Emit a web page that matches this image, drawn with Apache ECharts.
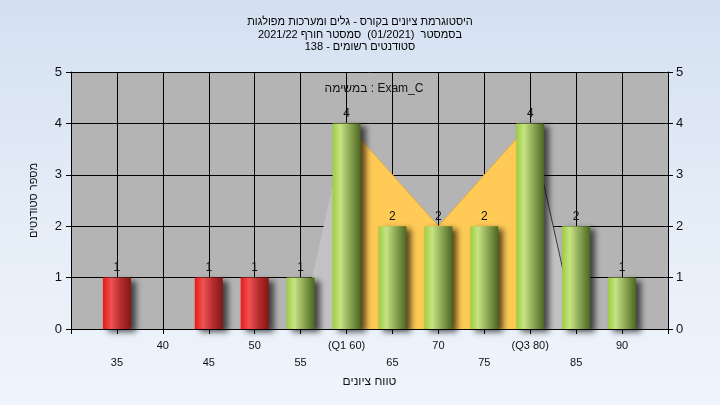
<!DOCTYPE html>
<html>
<head>
<meta charset="utf-8">
<script src="https://cdn.jsdelivr.net/npm/echarts@6/dist/echarts.min.js"></script>
<style>
  html, body { margin: 0; padding: 0; }
  #chart { width: 720px; height: 405px; background: linear-gradient(to bottom, #d4e0f1 0%, #e4ecf7 50%, #eff5fc 100%); }
</style>
</head>
<body>
<div id="chart"></div>
<script>
// ---- data ----
const titleLines = [
  'היסטוגרמת ציונים בקורס - גלים ומערכות מפולגות',
  'בסמסטר  (01/2021)  סמסטר חורף 2021/22',
  'סטודנטים רשומים - 138'
];
const taskLabel = 'במשימה : Exam_C';
const xAxisTitle = 'טווח ציונים';
const yAxisTitle = 'מספר סטודנטים';
const scoreBins = [35, 40, 45, 50, 55, 60, 65, 70, 75, 80, 85, 90];
const studentCounts = [1, 0, 1, 1, 1, 4, 2, 2, 2, 4, 2, 1];
const passMark = 55;
const q1 = 60;
const q3 = 80;
const shapeX = [55, 60, 70, 80, 85];
const shapeY = [0, 4, 2, 4, 0];
const xMin = 30, xMax = 95, xStep = 5;
const yMin = 0, yMax = 5, yStep = 1;

// ---- styles ----
const greenFill = new echarts.graphic.LinearGradient(0, 0, 1, 0, [
  { offset: 0, color: '#9dcd3e' },
  { offset: 0.28, color: '#c6e384' },
  { offset: 0.6, color: '#8faa56' },
  { offset: 1, color: '#4b6621' }
]);
const redFill = new echarts.graphic.LinearGradient(0, 0, 1, 0, [
  { offset: 0, color: '#ea1a1a' },
  { offset: 0.3, color: '#ee5252' },
  { offset: 0.65, color: '#b42c2c' },
  { offset: 1, color: '#841616' }
]);

const barData = [];
scoreBins.forEach((x, i) => {
  const c = studentCounts[i];
  if (c > 0) {
    barData.push({ value: [x, c], itemStyle: { color: x < passMark ? redFill : greenFill } });
  }
});

const pts = shapeX.map((x, i) => [x, shapeY[i]]);
const leftPart = pts.filter(p => p[0] <= q1);
const midPart = pts.filter(p => p[0] >= q1 && p[0] <= q3);
const rightPart = pts.filter(p => p[0] >= q3);

const chart = echarts.init(document.getElementById('chart'), null, { renderer: 'canvas' });
const baseFont = '"Liberation Sans", Arial, "DejaVu Sans", sans-serif';

chart.setOption({
  animation: false,
  textStyle: { fontFamily: baseFont },
  title: [
    {
      text: titleLines.join('\n'),
      left: 'center',
      top: 11,
      textStyle: { fontSize: 11, fontWeight: 'normal', color: '#000', lineHeight: 12.5, fontFamily: baseFont }
    },
    {
      text: taskLabel,
      left: 369,
      top: 78,
      textAlign: 'center',
      textStyle: { fontSize: 12, fontWeight: 'normal', color: '#111', fontFamily: baseFont }
    }
  ],
  grid: {
    left: 71, right: 52, top: 72, bottom: 76,
    show: true, backgroundColor: '#b4b4b4', borderWidth: 0
  },
  xAxis: {
    type: 'value',
    min: xMin, max: xMax, interval: xStep,
    name: xAxisTitle,
    nameLocation: 'middle',
    nameGap: 46,
    nameTextStyle: { fontSize: 12, color: '#111', fontFamily: baseFont },
    axisLine: { show: true, onZero: false, lineStyle: { color: '#000', width: 1 } },
    axisTick: { show: true, length: 5, lineStyle: { color: '#000' } },
    splitLine: { show: true, lineStyle: { color: '#000', width: 1 } },
    axisLabel: {
      margin: 8,
      fontSize: 11,
      color: '#111',
      lineHeight: 17,
      showMinLabel: true, showMaxLabel: true,
      formatter: function (v) {
        if (v === xMin || v === xMax) return '';
        let s = String(v);
        if (v === q1) s = '(Q1 ' + v + ')';
        if (v === q3) s = '(Q3 ' + v + ')';
        return (v % 10 === 0) ? s : '\n' + s;
      }
    }
  },
  yAxis: [
    {
      type: 'value',
      min: yMin, max: yMax, interval: yStep,
      position: 'left',
      name: yAxisTitle,
      nameLocation: 'middle',
      nameGap: 32,
      nameRotate: 90,
      nameTextStyle: { fontSize: 11, color: '#111', fontFamily: baseFont },
      axisLine: { show: true, lineStyle: { color: '#000', width: 1 } },
      axisTick: { show: true, length: 5, lineStyle: { color: '#000' } },
      splitLine: { show: true, lineStyle: { color: '#000', width: 1 } },
      axisLabel: { margin: 9, fontSize: 13, color: '#111' }
    },
    {
      type: 'value',
      min: yMin, max: yMax, interval: yStep,
      position: 'right',
      axisLine: { show: true, lineStyle: { color: '#000', width: 1 } },
      axisTick: { show: true, length: 5, lineStyle: { color: '#000' } },
      splitLine: { show: false },
      axisLabel: { margin: 8, fontSize: 13, color: '#111' }
    }
  ],
  series: [
    {
      type: 'line',
      data: leftPart,
      symbol: 'none',
      z: 1,
      lineStyle: { width: 0 },
      areaStyle: { color: '#c2c2c2', opacity: 1 },
      silent: true
    },
    {
      type: 'line',
      data: midPart,
      symbol: 'none',
      z: 1,
      lineStyle: { width: 1, color: '#e6ad3e' },
      areaStyle: { color: '#ffca55', opacity: 1 },
      silent: true
    },
    {
      type: 'line',
      data: rightPart,
      symbol: 'none',
      z: 1,
      lineStyle: { width: 1, color: '#3a3a3a' },
      areaStyle: { color: '#c2c2c2', opacity: 1 },
      silent: true
    },
    {
      type: 'bar',
      data: barData,
      barWidth: 28,
      z: 3,
      itemStyle: {
        shadowColor: 'rgba(0,0,0,0.65)',
        shadowBlur: 6,
        shadowOffsetX: 5,
        shadowOffsetY: 3
      },
      label: {
        show: true,
        position: 'top',
        distance: 4,
        fontSize: 12,
        color: '#111',
        formatter: p => String(p.value[1])
      }
    }
  ]
});
</script>
</body>
</html>
